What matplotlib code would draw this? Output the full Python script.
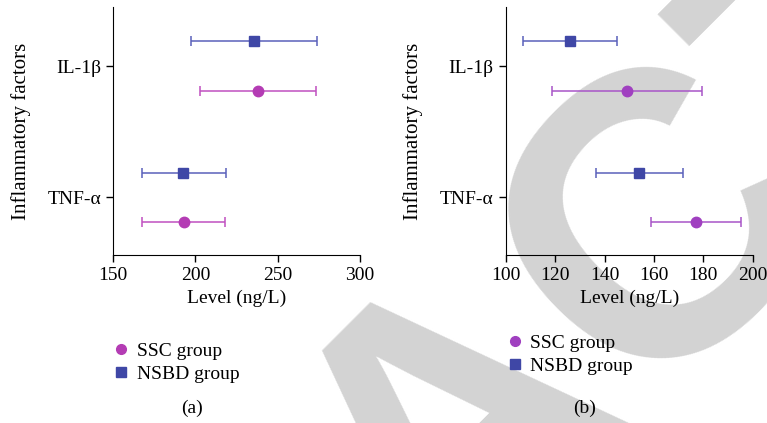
import matplotlib.pyplot as plt
from matplotlib.lines import Line2D

# Data (mean and error-bar ends, ng/L)
factors = ["TNF-α", "IL-1β"]

a_ssc_mean = [193, 238]
a_ssc_low = [167.8, 202.8]
a_ssc_high = [218, 273.3]
a_nsbd_mean = [192.7, 235.4]
a_nsbd_low = [167.4, 197.4]
a_nsbd_high = [218.4, 273.7]

b_ssc_mean = [177, 149]
b_ssc_low = [158.7, 118.9]
b_ssc_high = [195.1, 179.3]
b_nsbd_mean = [154.1, 126.2]
b_nsbd_low = [136.7, 107.1]
b_nsbd_high = [171.9, 145.1]

a_xticks = [150, 200, 250, 300]
b_xticks = [100, 120, 140, 160, 180, 200]

plt.rcParams['font.family'] = ['Liberation Serif', 'DejaVu Serif']
FS = 14

blue = "#3f47a6"
blue_line = "#5a60bb"


def draw_panel(ax, ssc, nsbd, xticks, pink, pink_line):
    pos = list(range(len(factors)))
    off = 0.187
    for (mean, low, high), col, lcol, mk, sh in [
        (ssc, pink, pink_line, "o", -off),
        (nsbd, blue, blue_line, "s", off),
    ]:
        err = [[m - l for m, l in zip(mean, low)], [h - m for m, h in zip(mean, high)]]
        ax.errorbar(mean, [p + sh for p in pos], xerr=err, fmt=mk, color=col,
                    ecolor=lcol, elinewidth=1.1, capsize=3.6, capthick=1.1,
                    markersize=7.5, zorder=3)
    ax.set_yticks(pos)
    ax.set_yticklabels(factors, fontsize=FS)
    ax.set_ylim(-0.44, 1.45)
    ax.set_xlim(xticks[0], xticks[-1])
    ax.set_xticks(xticks)
    ax.tick_params(labelsize=FS, length=5, width=1, direction="out")
    ax.spines["top"].set_visible(False)
    ax.spines["right"].set_visible(False)
    ax.set_facecolor("none")
    ax.set_xlabel("Level (ng/L)", fontsize=FS, labelpad=4)
    ax.set_ylabel("Inflammatory factors", fontsize=FS + 1, labelpad=12)
    handles = [
        Line2D([], [], marker="o", color=pink, linestyle="none", markersize=7),
        Line2D([], [], marker="s", color=blue, linestyle="none", markersize=7),
    ]
    return handles


fig = plt.figure(figsize=(7.67, 4.23), dpi=100)
ax1 = fig.add_axes([0.1473, 0.3972, 0.3221, 0.5863])
ax2 = fig.add_axes([0.6593, 0.3972, 0.3221, 0.5863])

h1 = draw_panel(ax1, (a_ssc_mean, a_ssc_low, a_ssc_high),
                (a_nsbd_mean, a_nsbd_low, a_nsbd_high), a_xticks, "#b43cb4", "#c050c0")
h2 = draw_panel(ax2, (b_ssc_mean, b_ssc_low, b_ssc_high),
                (b_nsbd_mean, b_nsbd_low, b_nsbd_high), b_xticks, "#a040c0", "#a855c8")

labels = ["SSC group", "NSBD group"]
fig.legend(h1, labels, loc="upper left", bbox_to_anchor=(0.135, 0.213),
           frameon=False, fontsize=FS, handlelength=0.8, handletextpad=0.4,
           borderpad=0, labelspacing=0.25)
fig.legend(h2, labels, loc="upper left", bbox_to_anchor=(0.648, 0.232),
           frameon=False, fontsize=FS, handlelength=0.8, handletextpad=0.4,
           borderpad=0, labelspacing=0.25)

fig.text(192 / 767, 1 - 408 / 423, "(a)", ha="center", va="center", fontsize=FS)
fig.text(585 / 767, 1 - 408 / 423, "(b)", ha="center", va="center", fontsize=FS)

# retraction watermark behind the plots
fig.text(462 / 767, 1 - 430 / 423, "RETRACTED", rotation=45, rotation_mode="anchor",
         ha="center", va="center", fontsize=290, color="#d3d3d3",
         family="Liberation Sans", weight="bold", zorder=-1)

fig.savefig("out.png", dpi=100)
